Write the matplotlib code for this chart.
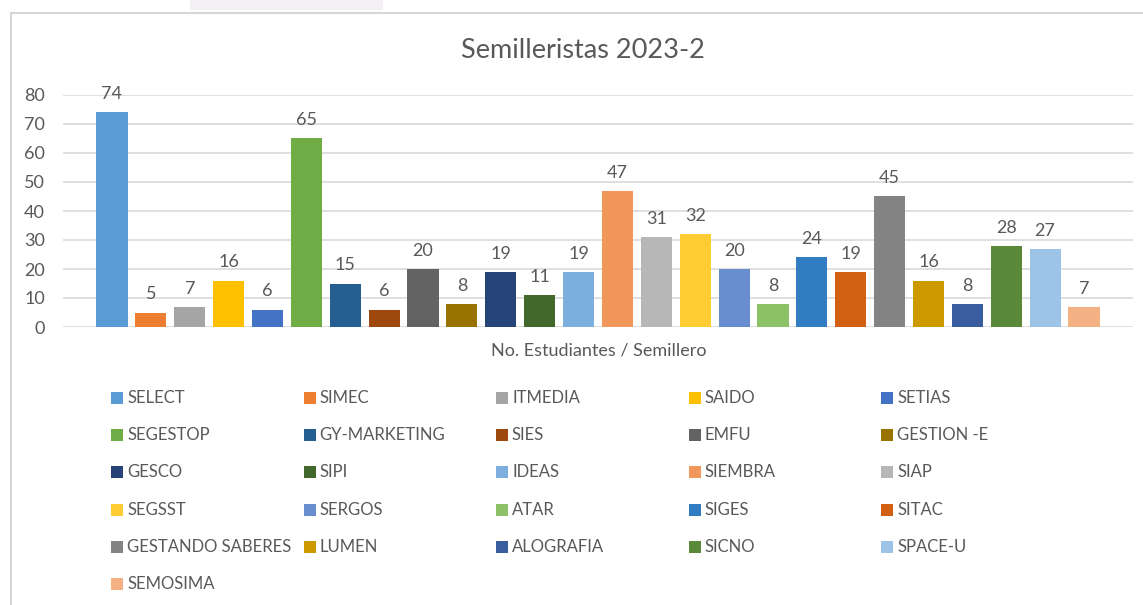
import matplotlib.pyplot as plt
import numpy as np
from matplotlib.patches import Rectangle
from matplotlib.lines import Line2D

# Semilleros y número de estudiantes por semillero (2023-2)
semilleros = ['SELECT', 'SIMEC', 'ITMEDIA', 'SAIDO', 'SETIAS',
              'SEGESTOP', 'GY-MARKETING', 'SIES', 'EMFU', 'GESTION -E',
              'GESCO', 'SIPI', 'IDEAS', 'SIEMBRA', 'SIAP',
              'SEGSST', 'SERGOS', 'ATAR', 'SIGES', 'SITAC',
              'GESTANDO SABERES', 'LUMEN', 'ALOGRAFIA', 'SICNO', 'SPACE-U',
              'SEMOSIMA']
estudiantes = [74, 5, 7, 16, 6,
               65, 15, 6, 20, 8,
               19, 11, 19, 47, 31,
               32, 20, 8, 24, 19,
               45, 16, 8, 28, 27,
               7]
colores = ['#5B9BD5', '#ED7D31', '#A5A5A5', '#FFC000', '#4472C4',
           '#70AD47', '#255E91', '#9E480E', '#636363', '#997300',
           '#264478', '#43682B', '#7CAFDD', '#F1975A', '#B7B7B7',
           '#FFCD33', '#698ED0', '#8CC168', '#327DC2', '#D26012',
           '#848484', '#CC9A00', '#3A5DA0', '#5A8A39', '#9DC3E6',
           '#F4B183']
yticks = [0, 10, 20, 30, 40, 50, 60, 70, 80]

W, H = 1143, 605
GRIS = '#595959'
FUENTE = ['Lato', 'DejaVu Sans']
plt.rcParams['font.family'] = FUENTE


def fx(px):
    return px / W


def fy(py):
    return 1 - py / H


fig = plt.figure(figsize=(W / 100, H / 100), dpi=100)
fig.patch.set_facecolor('white')

# marco del gráfico
fig.add_artist(Line2D([fx(11), fx(W)], [fy(13), fy(13)], color='#D6D6D6', lw=1.5))
fig.add_artist(Line2D([fx(11), fx(11)], [fy(13), fy(H)], color='#D6D6D6', lw=1.5))
fig.add_artist(Rectangle((fx(190), fy(10)), fx(193), 10 / H, color='#F3EFF3', lw=0))

ax = fig.add_axes([fx(63), fy(327), fx(1070), 232 / H])
x = np.arange(len(semilleros))
for i, (nombre, valor, color) in enumerate(zip(semilleros, estudiantes, colores)):
    ax.bar(x[i], valor, width=0.8, color=color, label=nombre, zorder=3)
    ax.annotate(str(valor), (x[i], valor), xytext=(0, 9.5), textcoords='offset points',
                ha='center', va='baseline', fontsize=13, color=GRIS, clip_on=False)

ax.set_xlim(-1.26, len(semilleros) - 1 + 1.26)
ax.set_ylim(0, 80)
ax.set_yticks(yticks)
ax.set_xticks([])
ax.tick_params(axis='y', length=0, pad=13, labelsize=13, labelcolor=GRIS)
ax.grid(axis='y', color='#D9D9D9', lw=1.2, zorder=0)
for s in ax.spines.values():
    s.set_visible(False)

fig.text(fx(583), fy(50), 'Semilleristas 2023-2', ha='center', va='center',
         fontsize=19.5, color=GRIS)
fig.text(fx(599), fy(351), 'No. Estudiantes / Semillero', ha='center', va='center',
         fontsize=13, color=GRIS)

# leyenda en 5 columnas, ordenada por filas
for k, (nombre, color) in enumerate(zip(semilleros, colores)):
    fila, col = divmod(k, 5)
    px = 111 + col * 192.5
    py = 398 + fila * 37.2
    fig.add_artist(Rectangle((fx(px), fy(py + 6)), fx(12), 12 / H, color=color, lw=0))
    fig.text(fx(px + 16), fy(py), nombre, ha='left', va='center', fontsize=12, color=GRIS)

fig.savefig('out.png', dpi=100)
